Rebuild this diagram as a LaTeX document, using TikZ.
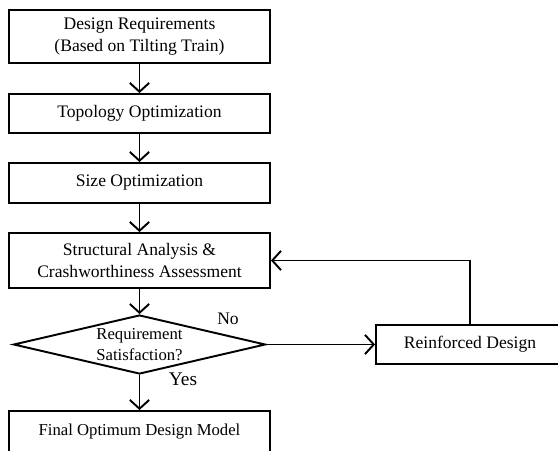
\documentclass[tikz,border=0pt]{standalone}
\usepackage{fontspec}
\setmainfont{Liberation Serif}
\usetikzlibrary{
    shapes.geometric,
    arrows.meta,
    positioning
}

\tikzset{
    procbox/.style={draw, line width=1.1pt, minimum width=5.22cm, align=center,
        inner sep=2pt, font=\fontsize{10}{12.5}\selectfont},
    decision/.style={draw, diamond, line width=1.1pt, aspect=4.27,
        minimum width=5.04cm, minimum height=1.18cm, inner sep=0pt,
        align=center, font=\fontsize{9.5}{11.5}\selectfont},
    flow/.style={line width=1.1pt, -{Straight Barb[length=5pt, width=11pt]}},
    lbl/.style={inner sep=0pt, font=\fontsize{10}{12}\selectfont}
}

\begin{document}
\begin{tikzpicture}[x=0.02cm, y=-0.02cm]
    \useasboundingbox (0, 0) rectangle (558, 450);

    \node[procbox, minimum height=1.06cm] (req) at (139.5, 36.5) {Design Requirements\\(Based on Tilting Train)};
    \node[procbox, minimum height=0.78cm] (topo) at (139.5, 113.5) {Topology Optimization};
    \node[procbox, minimum height=0.8cm] (size) at (139.5, 183) {Size Optimization};
    \node[procbox, minimum height=1.1cm] (anal) at (139.5, 260.5) {Structural Analysis \&\\Crashworthiness Assessment};
    \node[decision] (check) at (139.5, 344.5) {Requirement\\Satisfaction?};
    \node[procbox, minimum height=0.82cm, font=\fontsize{9.5}{11.5}\selectfont] (final) at (139.5, 431.5) {Final Optimum Design Model};
    \node[procbox, minimum width=3.76cm, minimum height=0.78cm] (reinf) at (470, 344.5) {Reinforced Design};

    \node[lbl] (no) at (228, 319) {No};
    \node[lbl, font=\fontsize{11}{13}\selectfont] (yes) at (183, 379) {Yes};

    \draw[flow] (req) -- (topo);
    \draw[flow] (topo) -- (size);
    \draw[flow] (size) -- (anal);
    \draw[flow] (anal) -- (check);
    \draw[flow] (check) -- (final);
    \draw[flow] (check) -- (reinf);
    \draw[flow] (reinf.north) |- (anal.east);
\end{tikzpicture}
\end{document}
